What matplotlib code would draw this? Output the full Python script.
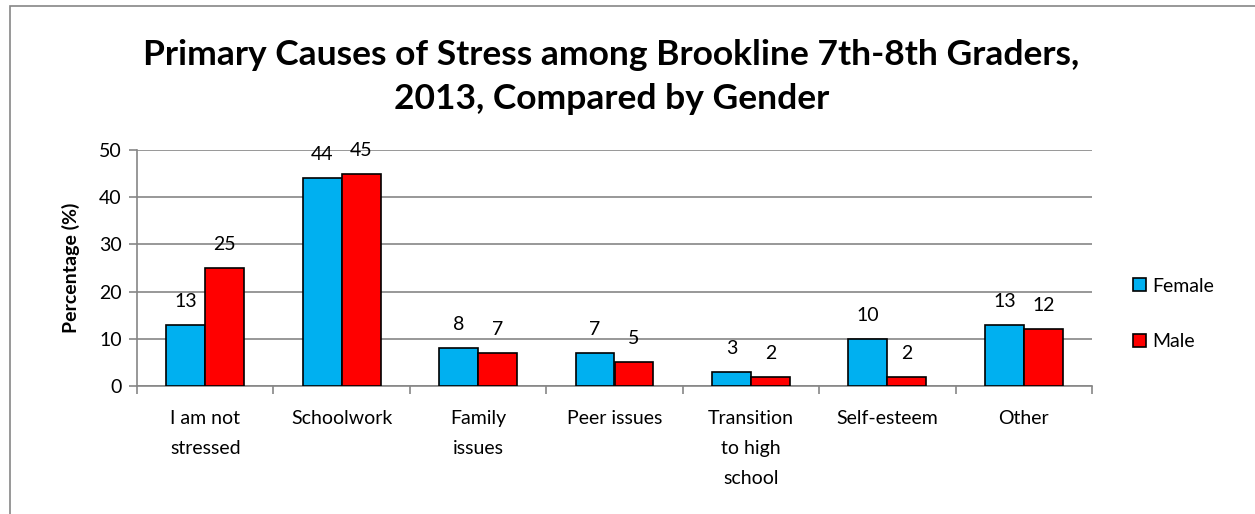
import matplotlib
matplotlib.use('Agg')
import numpy as np
import matplotlib.pyplot as plt
from matplotlib.patches import Rectangle

plt.rcParams['font.family'] = ['Lato', 'DejaVu Sans']

# Data
categories = ['I am not\nstressed', 'Schoolwork', 'Family\nissues', 'Peer issues',
              'Transition\nto high\nschool', 'Self-esteem', 'Other']
female = [13, 44, 8, 7, 3, 10, 13]
male = [25, 45, 7, 5, 2, 2, 12]

blue = '#00b0f0'
red = '#ff0000'
grey = '#868686'

fig = plt.figure(figsize=(12.55, 5.14), dpi=100)
ax = fig.add_axes([137/1255, 1 - 386/514, (1092-137)/1255, (386-150)/514])

# outer chart border
fig.patches.append(Rectangle((10/1255, -0.1), 1.2, 1 - 6/514 + 0.1, transform=fig.transFigure,
                             fill=False, edgecolor=grey, linewidth=1.2))

x = np.arange(len(categories))
w = 0.285
b1 = ax.bar(x - w/2, female, w, color=blue, edgecolor='black', linewidth=1.2, label='Female', zorder=3)
b2 = ax.bar(x + w/2, male, w, color=red, edgecolor='black', linewidth=1.2, label='Male', zorder=3)

for bars, vals in [(b1, female), (b2, male)]:
    for rect, v in zip(bars, vals):
        ax.annotate(str(v), (rect.get_x() + rect.get_width()/2, v), xytext=(0, 13),
                    textcoords='offset points', ha='center', va='baseline', fontsize=14)

ax.set_xlim(-0.5, len(categories) - 0.5)
ax.set_ylim(0, 50)
ax.set_yticks(range(0, 51, 10))
ax.yaxis.grid(True, color=grey, linewidth=1.2, zorder=0)
ax.set_axisbelow(True)

ax.set_xticks(x)
ax.set_xticklabels(categories, fontsize=14, linespacing=1.95)
ax.set_xticks(np.arange(-0.5, len(categories)), minor=True)
ax.tick_params(axis='x', which='major', length=0, pad=17)
ax.tick_params(axis='x', which='minor', length=6, color=grey, width=1.2)
ax.tick_params(axis='y', length=6, color=grey, width=1.2, labelsize=14, pad=5)

for side in ['top', 'right']:
    ax.spines[side].set_visible(False)
for side in ['left', 'bottom']:
    ax.spines[side].set_color(grey)
    ax.spines[side].set_linewidth(1.2)

ax.set_ylabel('Percentage (%)', fontsize=14, fontweight='bold', labelpad=14)

fig.suptitle('Primary Causes of Stress among Brookline 7th-8th Graders,\n2013, Compared by Gender',
             x=0.487, y=0.924, fontsize=25.5, fontweight='bold', linespacing=1.45)

ax.legend(loc='center left', bbox_to_anchor=(1.025, 0.305), frameon=False, fontsize=14,
          handlelength=0.65, handleheight=0.65, handletextpad=0.3, labelspacing=2.0)

fig.savefig('out.png', dpi=100)
